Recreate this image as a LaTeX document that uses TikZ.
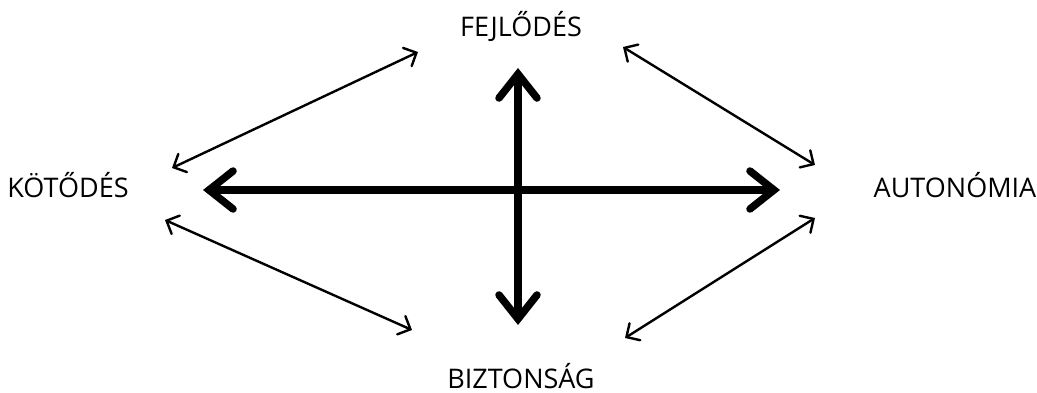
\documentclass[tikz,border=0pt]{standalone}
\usepackage{fontspec}
\setmainfont{Open Sans}
\usetikzlibrary{arrows.meta}

\tikzset{
  label/.style={inner sep=0pt, anchor=base, font=\fontsize{27}{32}\selectfont},
  bold arrow/.style={line width=7.5pt, {Straight Barb[length=24pt,width=38pt,line cap=round]}-{Straight Barb[length=24pt,width=38pt,line cap=round]}},
  thin arrow/.style={line width=2.4pt, {Straight Barb[length=10pt,width=20pt,line cap=round]}-{Straight Barb[length=10pt,width=20pt,line cap=round]}}
}

\begin{document}
\begin{tikzpicture}[x=1pt, y=-1pt, line cap=round, line join=round]
  \useasboundingbox (0,0) rectangle (1037,393);
  % the four labels
  \node[label] (kot) at (68,197) {KÖTŐDÉS};
  \node[label] (aut) at (955,197) {AUTONÓMIA};
  \node[label] (fej) at (521,37) {FEJLŐDÉS};
  \node[label] (biz) at (521,388) {BIZTONSÁG};
  % ends of the arrows
  \coordinate (hl) at (203,190);
  \coordinate (hr) at (780,190);
  \coordinate (vt) at (518,68);
  \coordinate (vb) at (518,325);
  \coordinate (ul1) at (172,168);  \coordinate (ul2) at (418,52);
  \coordinate (ll1) at (165,220);  \coordinate (ll2) at (412,330);
  \coordinate (ur1) at (623,47);   \coordinate (ur2) at (815,165);
  \coordinate (lr1) at (815,218);  \coordinate (lr2) at (625,338);
  % the cross
  \draw[bold arrow] (hl) -- (hr);
  \draw[bold arrow] (vt) -- (vb);
  % the diagonals
  \draw[thin arrow] (ul1) -- (ul2);
  \draw[thin arrow] (ll1) -- (ll2);
  \draw[thin arrow] (ur1) -- (ur2);
  \draw[thin arrow] (lr1) -- (lr2);
\end{tikzpicture}
\end{document}
